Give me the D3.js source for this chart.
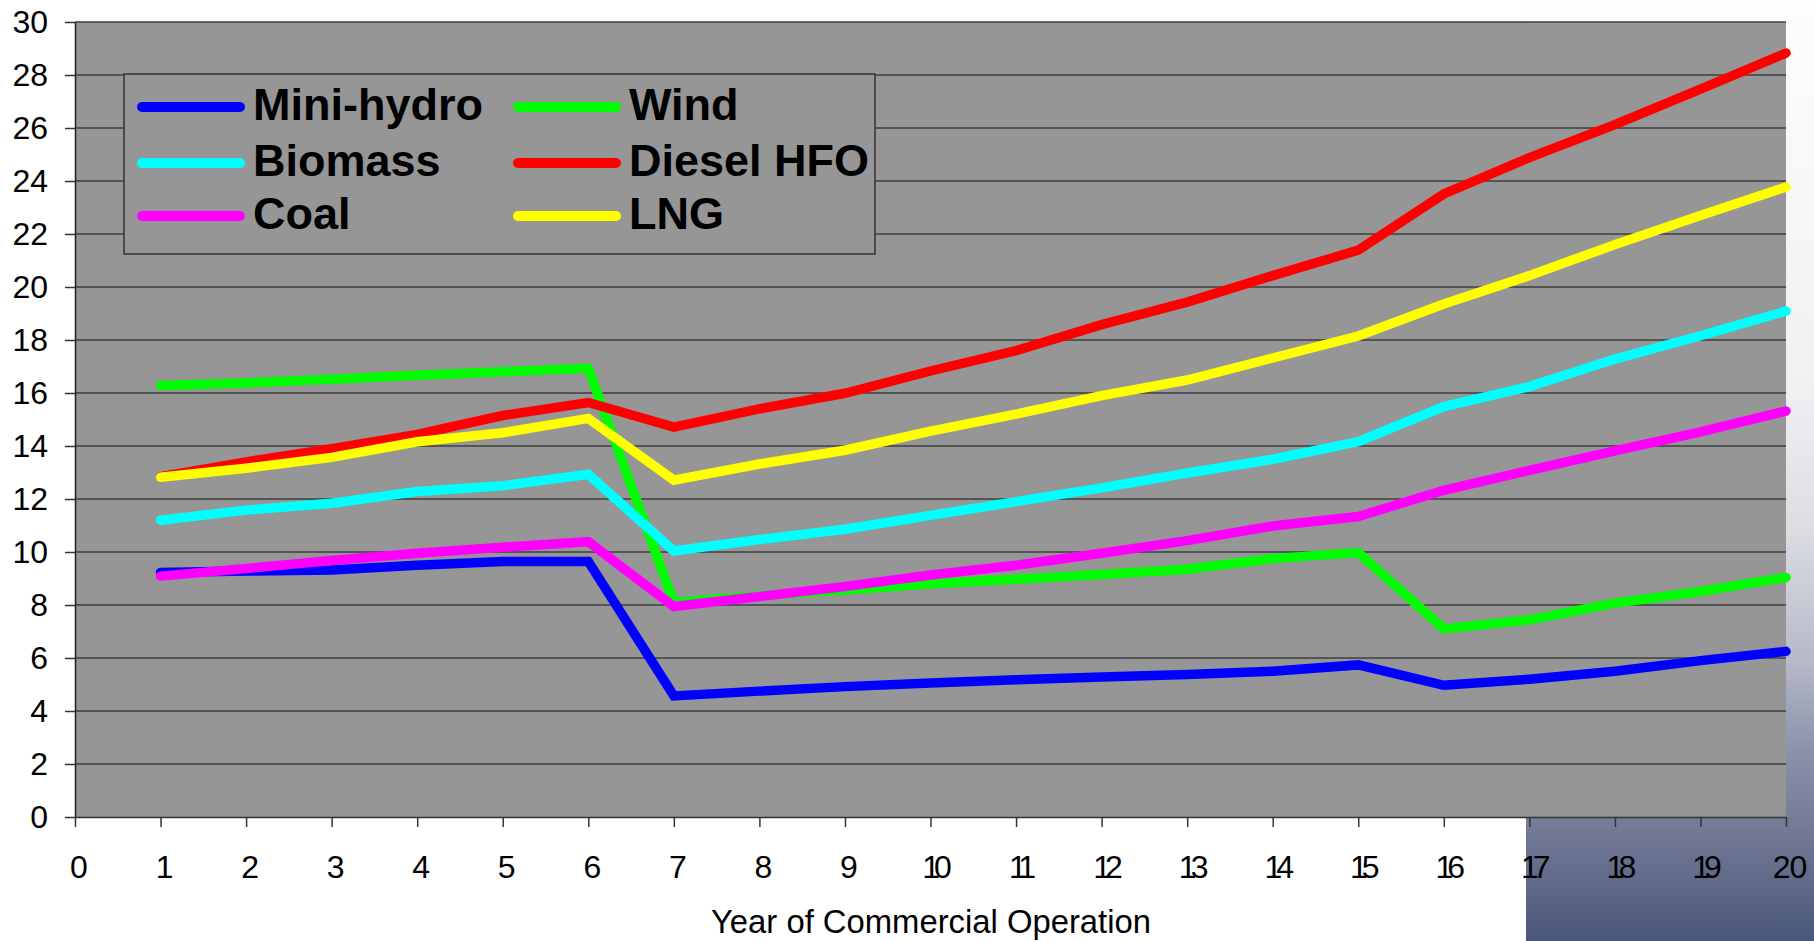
<!DOCTYPE html>
<html>
<head>
<meta charset="utf-8">
<script src="https://cdn.jsdelivr.net/npm/d3@7/dist/d3.min.js"></script>
<style>
  html, body { margin: 0; padding: 0; background: #ffffff; }
  svg { display: block; }
  text { font-family: "Liberation Sans", Arial, sans-serif; }
</style>
</head>
<body>
<svg id="chart" width="1814" height="941"></svg>
<script>
// ---- data ----
const years = [1,2,3,4,5,6,7,8,9,10,11,12,13,14,15,16,17,18,19,20];
const xTickLabels = [0,1,2,3,4,5,6,7,8,9,10,11,12,13,14,15,16,17,18,19,20];
const yTickLabels = [0,2,4,6,8,10,12,14,16,18,20,22,24,26,28,30];
const seriesNames = ["Mini-hydro","Wind","Biomass","Diesel HFO","Coal","LNG"];
const seriesColors = ["#0000ff","#00ff00","#00ffff","#ff0000","#ff00ff","#ffff00"];
const miniHydro = [9.23,9.28,9.32,9.5,9.64,9.64,4.57,4.75,4.92,5.06,5.18,5.28,5.38,5.5,5.74,4.97,5.2,5.5,5.9,6.25];
const wind      = [16.28,16.38,16.52,16.67,16.8,16.93,8.1,8.35,8.57,8.8,8.97,9.15,9.35,9.75,9.98,7.1,7.44,8.07,8.51,9.04];
const biomass   = [11.2,11.58,11.84,12.28,12.5,12.93,10.04,10.47,10.86,11.38,11.9,12.42,12.98,13.5,14.16,15.49,16.24,17.28,18.16,19.09];
const dieselHFO = [12.84,13.4,13.9,14.44,15.15,15.64,14.71,15.4,15.99,16.83,17.6,18.58,19.43,20.43,21.39,23.51,24.88,26.13,27.47,28.83];
const coal      = [9.09,9.38,9.68,9.95,10.18,10.39,7.94,8.32,8.7,9.13,9.5,9.95,10.43,10.98,11.34,12.33,13.08,13.82,14.53,15.32];
const lng       = [12.82,13.16,13.57,14.16,14.5,15.04,12.71,13.32,13.84,14.56,15.2,15.9,16.49,17.32,18.15,19.36,20.43,21.6,22.7,23.77];
const seriesValues = [miniHydro, wind, biomass, dieselHFO, coal, lng];
const xTitle = "Year of Commercial Operation";

// ---- layout ----
const svg = d3.select("#chart");
const W = 1814, H = 941;
const plot = {left: 75, right: 1786, top: 22, bottom: 817};

const x = d3.scaleLinear().domain([0, 20]).range([plot.left, plot.right]);
const y = d3.scaleLinear().domain([0, 30]).range([plot.bottom, plot.top]);

// slide-like gradient background on the right
const defs = svg.append("defs");
const grad = defs.append("linearGradient").attr("id","bg").attr("x1",0).attr("y1",0).attr("x2",0).attr("y2",1);
[[0,"#fdfdfd"],[0.4,"#f0f1f3"],[0.56,"#dcdee3"],[0.7,"#b6bac9"],[0.8,"#8c91aa"],[0.87,"#767c99"],[1,"#4b5879"]]
  .forEach(([o,c]) => grad.append("stop").attr("offset",o).attr("stop-color",c));
svg.append("rect").attr("x",1526).attr("y",0).attr("width",W-1526).attr("height",H).attr("fill","url(#bg)");

// plot area
svg.append("rect")
  .attr("x", plot.left).attr("y", plot.top)
  .attr("width", plot.right - plot.left).attr("height", plot.bottom - plot.top)
  .attr("fill", "#969696");

// gridlines
svg.append("g").selectAll("line").data(yTickLabels.filter(d => d > 0)).join("line")
  .attr("x1", plot.left).attr("x2", plot.right)
  .attr("y1", d => y(d)).attr("y2", d => y(d))
  .attr("stroke", "#3e3e3e").attr("stroke-width", 1.6);

// lines
const line = d3.line().x((d,i) => x(years[i])).y(d => y(d)).curve(d3.curveLinear);
svg.append("g").selectAll("path").data(seriesValues).join("path")
  .attr("d", d => line(d))
  .attr("fill", "none")
  .attr("stroke", (d,i) => seriesColors[i])
  .attr("stroke-width", 9.5)
  .attr("stroke-linejoin", "miter")
  .attr("stroke-miterlimit", 4)
  .attr("stroke-linecap", "round");

// y axis
const yAxis = d3.axisLeft(y).tickValues(yTickLabels).tickSize(10).tickSizeOuter(0).tickPadding(17);
const gy = svg.append("g").attr("transform", `translate(${plot.left},0)`).call(yAxis);
gy.select(".domain").attr("stroke", "#222").attr("stroke-width", 1.5);
gy.selectAll(".tick line").attr("stroke", "#333").attr("stroke-width", 1.5);
gy.selectAll(".tick text").attr("font-size", 32).attr("fill", "#000")
  .style("font-family", '"Liberation Sans", Arial, sans-serif');

// x axis
const xAxis = d3.axisBottom(x).tickValues(xTickLabels).tickSize(10).tickSizeOuter(0).tickPadding(28);
const gx = svg.append("g").attr("transform", `translate(0,${plot.bottom})`).call(xAxis);
gx.select(".domain").attr("stroke", "#333").attr("stroke-width", 1.5);
gx.selectAll(".tick line").attr("stroke", "#333").attr("stroke-width", 1.5);
gx.selectAll(".tick text").attr("font-size", 32).attr("fill", "#000").attr("dx", 3)
  .style("font-family", '"Liberation Sans", Arial, sans-serif')
  .style("letter-spacing", d => (d >= 10 && d < 20) ? "-6px" : "-1px");

// x title
svg.append("text")
  .attr("x", 931).attr("y", 933)
  .attr("text-anchor", "middle")
  .attr("font-size", 33)
  .attr("textLength", 440).attr("lengthAdjust", "spacingAndGlyphs")
  .attr("fill", "#000")
  .text(xTitle);

// legend
const lg = svg.append("g");
lg.append("rect").attr("x", 124).attr("y", 74).attr("width", 751).attr("height", 180)
  .attr("fill", "#969696").attr("stroke", "#333").attr("stroke-width", 1.5);
const colX = [137, 513];
const rowY = [107, 163, 216];
seriesNames.forEach((name, i) => {
  const col = i % 2, row = Math.floor(i / 2);
  const lx = colX[col], ly = rowY[row];
  lg.append("line").attr("x1", lx + 5).attr("x2", lx + 103)
    .attr("y1", ly).attr("y2", ly)
    .attr("stroke", seriesColors[i]).attr("stroke-width", 10).attr("stroke-linecap", "round");
  lg.append("text").attr("x", lx + 116).attr("y", ly + 13)
    .attr("font-size", 45).attr("font-weight", "bold").attr("fill", "#000")
    .text(name);
});
</script>
</body>
</html>
